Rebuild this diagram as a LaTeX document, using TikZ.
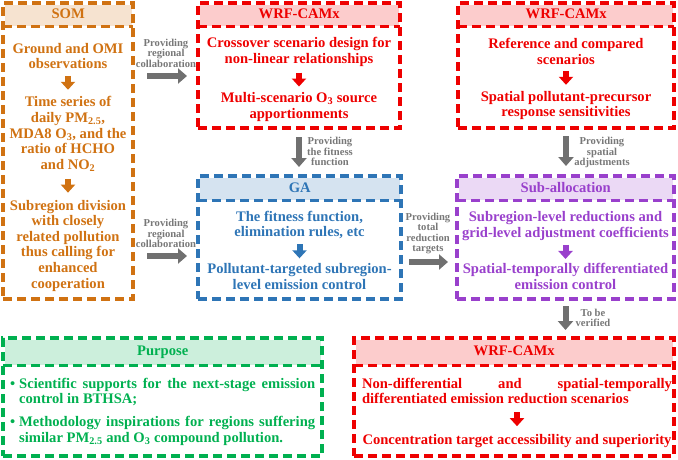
\documentclass[tikz,border=0pt]{standalone}
\usepackage{fontspec}
\setmainfont{Liberation Serif}
\usetikzlibrary{arrows.meta, calc}

\definecolor{clrsom}{RGB}{208,114,18}
\definecolor{clrwrf}{RGB}{238,0,0}
\definecolor{clrga}{RGB}{46,117,182}
\definecolor{clrsub}{RGB}{153,64,204}
\definecolor{clrpur}{RGB}{0,176,80}
\definecolor{flowgray}{RGB}{112,112,112}
\definecolor{taggray}{RGB}{120,120,120}

\tikzset{
  frame/.style={line width=3.3pt, dash pattern=on 9pt off 5pt},
  body/.style={font=\fontsize{14.6}{15.6}\selectfont\bfseries, align=center, inner sep=0pt},
  tag/.style={font=\fontsize{10.6}{10.4}\selectfont\bfseries, text=taggray, align=center, inner sep=0pt},
  flow/.style={draw=flowgray, line width=6pt, -{Triangle[width=15pt,length=9pt]}},
  inarrow/.style={line width=6pt, -{Triangle[width=14pt,length=8pt]}},
}

\begin{document}
\begin{tikzpicture}[x=1pt,y=-1pt]
\useasboundingbox (0,0) rectangle (678,459);

% boxes with their coloured title bands
\foreach \nm/\xa/\ya/\xb/\yb/\yh/\col/\ttl in {
  som/3/3/133/299/26/clrsom/SOM,
  wrfa/198/3/400/128/26/clrwrf/WRF-CAMx,
  wrfb/458/3/674/128/26/clrwrf/WRF-CAMx,
  ga/198/176/401/299/200/clrga/GA,
  sub/457/176/674/299/200/clrsub/Sub-allocation,
  purp/3/338/322/456/365/clrpur/Purpose,
  wrfc/354/338/674/456/365/clrwrf/WRF-CAMx}
{
  \node[body, fill=\col!20, text=\col, anchor=north west, text height=10pt, text depth=3pt,
        minimum width={(\xb-\xa-3)*1pt}, minimum height={(\yh-\ya-1.5)*1pt}]
        (\nm-h) at (\xa+1.5,\ya+1.5) {\ttl};
  \node[frame, draw=\col, anchor=north west, inner sep=0pt, outer sep=0pt,
        minimum width={(\xb-\xa)*1pt}, minimum height={(\yb-\ya)*1pt}]
        (\nm) at (\xa,\ya) {};
  \draw[frame, \col] (\nm.west |- \nm-h.south) -- (\nm.east |- \nm-h.south);
}

% SOM
\node[body, text=clrsom] (som-a) at (68,56) {Ground and OMI\\observations};
\node[body, text=clrsom] (som-b) at (68,134) {Time series of\\daily PM\textsubscript{2.5},\\MDA8 O\textsubscript{3}, and the\\ratio of HCHO\\and NO\textsubscript{2}};
\node[body, text=clrsom] (som-c) at (68,245.5) {Subregion division\\with closely\\related pollution\\thus calling for\\enhanced\\cooperation};

% WRF-CAMx (top)
\node[body, text=clrwrf] (wrfa-a) at (299,52) {Crossover scenario design for\\non-linear relationships};
\node[body, text=clrwrf] (wrfa-b) at (299,107) {Multi-scenario O\textsubscript{3} source\\apportionments};
\node[body, text=clrwrf] (wrfb-a) at (566,51.5) {Reference and compared\\scenarios};
\node[body, text=clrwrf] (wrfb-b) at (566,105.5) {Spatial pollutant-precursor\\response sensitivities};

% GA and sub-allocation
\node[body, text=clrga] (ga-a) at (299.5,225) {The fitness function,\\elimination rules, etc};
\node[body, text=clrga] (ga-b) at (299.5,276.5) {Pollutant-targeted subregion-\\level emission control};
\node[body, text=clrsub] (sub-a) at (565.5,226) {Subregion-level reductions and\\grid-level adjustment coefficients};
\node[body, text=clrsub] (sub-b) at (565.5,276.5) {Spatial-temporally differentiated\\emission control};

% verification
\node[body, text=clrwrf, text width=310pt, align=justify] (wrfc-a) at (517,391) {Non-differential and spatial-temporally\linebreak differentiated emission reduction scenarios};
\node[body, text=clrwrf] (wrfc-b) at (517,441) {Concentration target accessibility and superiority};

% purpose
\node[body, text=clrpur, text width=296pt, align=justify, anchor=west] (purp-a) at (19,392) {\llap{\textbullet\hspace{4pt}}Scientific supports for the next-stage emission\linebreak control in BTHSA;};
\node[body, text=clrpur, text width=296pt, align=justify, anchor=west] (purp-b) at (19,431) {\llap{\textbullet\hspace{4pt}}Methodology inspirations for regions suffering\linebreak similar PM\textsubscript{2.5} and O\textsubscript{3} compound pollution.};

% arrows inside the boxes
\foreach \p/\q/\col in {som-a/som-b/clrsom, som-b/som-c/clrsom, wrfa-a/wrfa-b/clrwrf,
  wrfb-a/wrfb-b/clrwrf, ga-a/ga-b/clrga, sub-a/sub-b/clrsub, wrfc-a/wrfc-b/clrwrf}
  \draw[inarrow, \col] ($(\p.south)!.5!(\q.north)+(0,-7)$) -- ($(\p.south)!.5!(\q.north)+(0,7)$);

% links between boxes
\node[tag] (tag-a) at (166,53) {Providing\\regional\\collaboration};
\node[tag] (tag-b) at (166,233.5) {Providing\\regional\\collaboration};
\node[tag] (tag-c) at (330,151.5) {Providing\\the fitness\\function};
\node[tag] (tag-d) at (602,152.5) {Providing\\spatial\\adjustments};
\node[tag] (tag-e) at (428,233.5) {Providing\\total\\reduction\\targets};
\node[tag] (tag-f) at (593,318) {To be\\verified};

\draw[flow, shorten <=14pt, shorten >=11pt] (som.east |- 0,76) -- (wrfa.west |- 0,76);
\draw[flow, shorten <=14pt, shorten >=11pt] (som.east |- 0,256) -- (ga.west |- 0,256);
\draw[flow, shorten <=9pt, shorten >=9pt] (wrfa.south) -- (wrfa.south |- ga.north);
\draw[flow, shorten <=8pt, shorten >=10pt] (wrfb.south) -- (wrfb.south |- sub.north);
\draw[flow, shorten <=8pt, shorten >=9pt] (ga.east |- 0,262) -- (sub.west |- 0,262);
\draw[flow, shorten <=7pt, shorten >=8pt] (sub.south) -- (sub.south |- wrfc.north);
\end{tikzpicture}
\end{document}
